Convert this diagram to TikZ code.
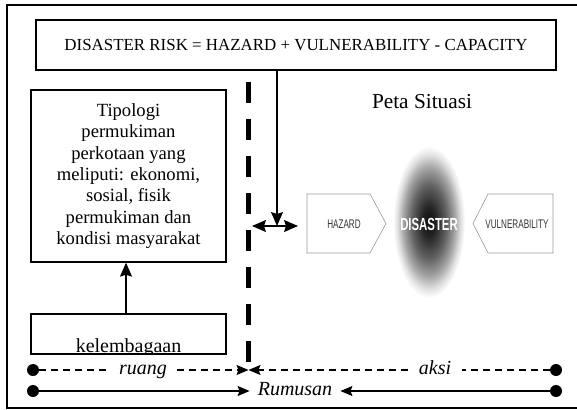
\documentclass[tikz,border=0pt]{standalone}
\usepackage{fontspec}
\setmainfont{Liberation Serif}
\newfontfamily\condfont{Liberation Sans}[FakeStretch=0.65]
\usetikzlibrary{arrows.meta}
\pgfdeclareradialshading{disasterblob}{\pgfpoint{0bp}{0bp}}{color(0bp)=(black!95); color(5bp)=(black!85); color(12bp)=(black!62); color(18bp)=(black!35); color(22bp)=(black!12); color(25bp)=(white); color(50bp)=(white)}

\begin{document}
\begin{tikzpicture}[x=1pt,y=1pt,yscale=-1,xscale=1,
  box/.style={draw, line width=1.3pt, inner sep=0pt},
  chev/.style={draw=black!40, line width=0.6pt},
  arr/.style={line width=1.2pt, -{Stealth[length=14pt,width=12pt,inset=2pt]}},
  twoarr/.style={line width=1.2pt, {Stealth[length=14pt,width=12pt,inset=2pt]}-{Stealth[length=14pt,width=12pt,inset=2pt]}},
  rowarr/.style={line width=1.1pt, -{Stealth[length=12pt,width=10pt,inset=2pt]}},
  dashrow/.style={line width=1.1pt, dash pattern=on 7pt off 5pt},
  sepline/.style={line width=5pt, dash pattern=on 21pt off 16pt},
  dot/.style={circle, fill, inner sep=0pt, minimum size=12pt},
  rowtext/.style={font=\fontsize{20}{22}\selectfont\itshape, inner ysep=0pt, text height=13pt, text depth=4pt}
]
\useasboundingbox (0,0) rectangle (577,409);

%Shape: Frame
\draw[line width=2pt] (7,5) rectangle (582,408);

% Text Node
\node[box, minimum width=520, minimum height=50] (risk) at (296,45) {\fontsize{16.9}{18}\selectfont DISASTER RISK = HAZARD + VULNERABILITY - CAPACITY};
% Text Node
\node[box, minimum width=195, minimum height=172, align=center, font=\fontsize{18.6}{21.4}\selectfont] (tipologi) at (128.5,176) {Tipologi\\ permukiman\\ perkotaan yang\\ meliputi: ekonomi,\\ sosial, fisik\\ permukiman dan\\ kondisi masyarakat};
% Text Node
\node[box, minimum width=195, minimum height=40] (lembaga) at (128.5,334) {};
\begin{scope}
\clip (lembaga.south west) rectangle (lembaga.north east);
\node[anchor=base, font=\fontsize{20}{22}\selectfont, inner sep=0pt] (lembagatext) at (128.5,352) {kelembagaan};
\end{scope}
\draw[arr] ([xshift=-2.5pt]lembaga.north) -- ([xshift=-2.5pt]tipologi.south);

%Straight Lines: separator
\coordinate (septop) at (248,82);
\coordinate (sepbot) at (248,364);
\draw[sepline] (septop) -- (sepbot);

% Text Node
\node[anchor=base, font=\fontsize{21.3}{24}\selectfont] (peta) at (422,108) {Peta Situasi};

%Shape: Hazard
\draw[chev] (307,194) -- (370,194) -- (386,223.5) -- (370,253) -- (307,253) -- cycle;
%Shape: Vulnerability
\draw[chev] (473,223.5) -- (488,194) -- (553,194) -- (553,253) -- (488,253) -- cycle;
%Shape: Disaster
\shade[shading=disasterblob] (429,222) ellipse [x radius=36, y radius=76];

\node[text=black!80, font=\condfont\fontsize{12.5}{14}\selectfont] (hazard) at (344,224) {HAZARD};
\node[text=black!80, font=\condfont\fontsize{12.5}{14}\selectfont] (vulner) at (517,224) {VULNERABILITY};
\node[text=white, font=\condfont\bfseries\fontsize{17.5}{20}\selectfont] (disaster) at (429,224) {DISASTER};

%Arrows: risk to map
\coordinate (meet) at (277,226);
\coordinate (meetl) at (252,226);
\coordinate (hazin) at (298,226);
\draw[arr] (risk.south -| meet) -- (meet);
\draw[twoarr] (meetl) -- (hazin);

%Bottom rows
\node[dot] (ruangdot) at (33,370) {};
\node[dot] (aksidot) at (556,370) {};
\node[dot] (rumusl) at (33,391) {};
\node[dot] (rumusr) at (556,391) {};
\coordinate (cross) at (248.5,370);

\node[rowtext, inner xsep=10pt] (ruang) at (143,370) {ruang};
\node[rowtext, inner xsep=11pt] (aksi) at (435,370) {aksi};
\node[rowtext, inner xsep=8pt] (rumusan) at (295,391) {Rumusan};

\draw[dashrow] (ruangdot) -- (ruang);
\draw[dashrow, -{Stealth[length=12pt,width=10pt,inset=2pt]}] (ruang) -- (cross);
\draw[dashrow] (aksidot) -- (aksi);
\draw[dashrow, -{Stealth[length=12pt,width=10pt,inset=2pt]}] (aksi) -- (cross);
\draw[rowarr] (rumusl) -- (rumusan);
\draw[rowarr] (rumusr) -- (rumusan);

\end{tikzpicture}
\end{document}
